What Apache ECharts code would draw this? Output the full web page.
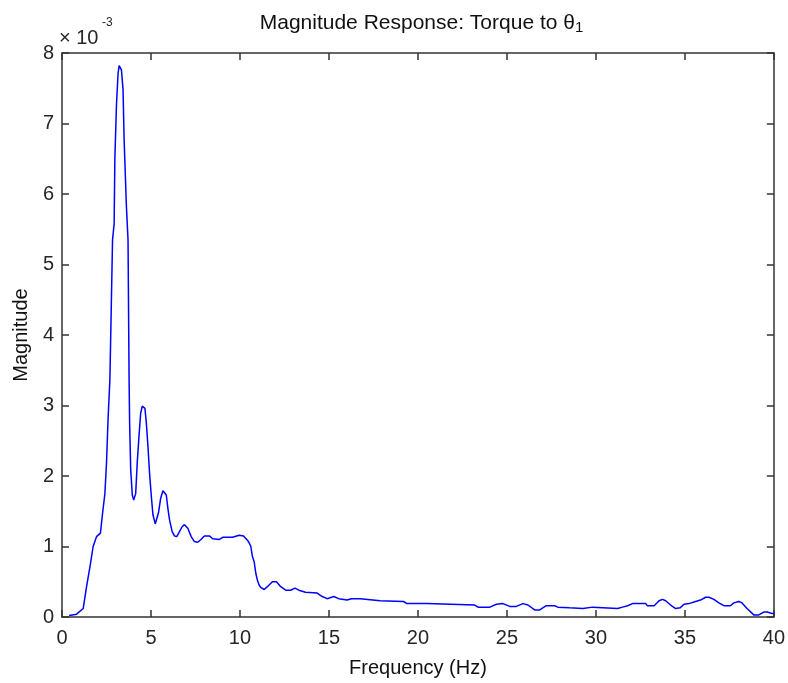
<!DOCTYPE html>
<html>
<head>
<meta charset="utf-8">
<script src="https://cdn.jsdelivr.net/npm/echarts@6/dist/echarts.min.js"></script>
<style>html,body{margin:0;padding:0;background:#fff}#chart{width:788px;height:683px}</style>
</head>
<body>
<div id="chart"></div>
<script>
// Frequency (Hz)
var freqHz = [0.40,0.82,1.19,1.38,1.57,1.75,1.94,2.16,2.27,2.41,2.50,2.59,2.69,2.84,2.93,2.97,3.06,3.15,3.21,3.34,3.43,3.49,3.62,3.71,3.77,3.80,3.86,3.95,4.03,4.14,4.23,4.33,4.42,4.51,4.66,4.74,4.83,4.92,5.02,5.11,5.24,5.33,5.43,5.54,5.67,5.78,5.86,5.95,6.04,6.19,6.32,6.45,6.60,6.75,6.88,7.07,7.26,7.44,7.63,7.81,8.00,8.28,8.47,8.84,9.03,9.58,9.96,10.20,10.42,10.52,10.61,10.70,10.80,10.89,10.98,11.08,11.17,11.36,11.54,11.64,11.82,12.05,12.29,12.57,12.85,13.09,13.31,13.68,14.34,14.62,14.90,15.27,15.55,16.02,16.26,16.76,16.86,17.88,17.98,19.19,19.38,20.49,20.58,23.19,23.38,24.04,24.41,24.78,25.16,25.53,25.90,26.18,26.56,26.84,27.21,27.68,27.86,28.51,28.61,29.26,29.35,29.82,29.91,31.22,31.50,31.78,32.06,32.80,32.89,33.27,33.55,33.74,33.92,34.20,34.48,34.73,34.95,35.23,35.60,35.88,36.16,36.35,36.63,36.91,37.19,37.56,37.75,38.03,38.21,38.49,38.87,39.15,39.43,39.62,39.90,40.00];
// Magnitude, in units of 1e-3
var magnitudeE3 = [0.02,0.04,0.12,0.43,0.71,1.00,1.14,1.19,1.45,1.75,2.18,2.82,3.36,5.35,5.58,6.50,7.26,7.71,7.82,7.76,7.48,6.77,5.82,5.35,3.36,2.75,2.09,1.73,1.66,1.75,2.20,2.58,2.89,2.99,2.96,2.75,2.42,2.04,1.71,1.45,1.32,1.33,1.49,1.68,1.79,1.80,1.73,1.54,1.38,1.21,1.15,1.14,1.21,1.28,1.31,1.26,1.14,1.07,1.06,1.10,1.15,1.15,1.11,1.10,1.13,1.13,1.16,1.15,1.09,1.05,1.00,0.86,0.78,0.62,0.52,0.45,0.42,0.39,0.43,0.45,0.50,0.50,0.43,0.38,0.38,0.41,0.38,0.35,0.34,0.29,0.26,0.29,0.26,0.24,0.26,0.26,0.24,0.23,0.22,0.22,0.19,0.19,0.17,0.17,0.14,0.14,0.18,0.19,0.15,0.15,0.19,0.17,0.10,0.10,0.16,0.16,0.14,0.13,0.12,0.12,0.14,0.14,0.12,0.12,0.14,0.16,0.19,0.19,0.16,0.16,0.23,0.25,0.23,0.17,0.12,0.13,0.18,0.19,0.22,0.24,0.28,0.28,0.25,0.20,0.16,0.16,0.20,0.22,0.20,0.12,0.03,0.03,0.07,0.07,0.05,0.05];

var xTicks = [0,5,10,15,20,25,30,35,40];
var yTicks = [0,1,2,3,4,5,6,7,8];

var titleMain = 'Magnitude Response: Torque to \u03b8';
var titleSub = '1';
var xName = 'Frequency (Hz)';
var yName = 'Magnitude';
var expBase = '\u00d7 10';
var expPow = '-3';

var FONT = 'Liberation Sans, Arial, sans-serif';
var INK = '#262626';

var data = freqHz.map(function (f, i) { return [f, magnitudeE3[i]]; });

var chart = echarts.init(document.getElementById('chart'), null, {renderer: 'canvas'});
var axisCommon = {
  axisLine: {show: true, onZero: false, lineStyle: {color: '#333', width: 1.5}},
  axisTick: {show: true, inside: true, length: 7, lineStyle: {color: '#333', width: 1.5}},
  splitLine: {show: false}
};
var GL = 62, GR = 11, GT = 53, GB = 66;
var plotCenterX = GL + (788 - GL - GR) / 2;
chart.setOption({
  animation: false,
  backgroundColor: '#fff',
  grid: {left: GL, right: GR, top: GT, bottom: GB, containLabel: false},
  xAxis: [
    Object.assign({
      type: 'value', min: xTicks[0], max: xTicks[xTicks.length - 1], interval: xTicks[1] - xTicks[0],
      position: 'bottom',
      name: xName, nameLocation: 'middle', nameGap: 41,
      nameTextStyle: {fontFamily: FONT, fontSize: 20, color: '#111'},
      axisLabel: {fontFamily: FONT, fontSize: 20, color: INK, margin: 11}
    }, axisCommon),
    Object.assign({
      type: 'value', min: xTicks[0], max: xTicks[xTicks.length - 1], interval: xTicks[1] - xTicks[0],
      position: 'top', axisLabel: {show: false}
    }, axisCommon)
  ],
  yAxis: [
    Object.assign({
      type: 'value', min: yTicks[0], max: yTicks[yTicks.length - 1], interval: yTicks[1] - yTicks[0],
      position: 'left',
      name: yName, nameLocation: 'middle', nameGap: 31, nameRotate: 90,
      nameTextStyle: {fontFamily: FONT, fontSize: 20, color: '#111'},
      axisLabel: {fontFamily: FONT, fontSize: 20, color: INK, margin: 8}
    }, axisCommon),
    Object.assign({
      type: 'value', min: yTicks[0], max: yTicks[yTicks.length - 1], interval: yTicks[1] - yTicks[0],
      position: 'right', axisLabel: {show: false}
    }, axisCommon)
  ],
  graphic: [
    {
      type: 'text', x: plotCenterX + 2, y: 13,
      style: {
        text: '{a|' + titleMain + '}{s|' + titleSub + '}',
        align: 'center', verticalAlign: 'top',
        rich: {
          a: {fontFamily: FONT, fontSize: 21, fontWeight: 'normal', fill: '#111', lineHeight: 22, verticalAlign: 'top'},
          s: {fontFamily: FONT, fontSize: 15, fontWeight: 'normal', fill: '#111', lineHeight: 15, verticalAlign: 'bottom'}
        },
        lineHeight: 34
      }
    },
    {type: 'text', left: 59, top: 28, style: {text: expBase, font: '20px ' + FONT, fill: INK}},
    {type: 'text', left: 102, top: 17, style: {text: expPow, font: '12px ' + FONT, fill: INK}}
  ],
  series: [{
    type: 'line',
    xAxisIndex: 0, yAxisIndex: 0,
    data: data,
    showSymbol: false,
    symbol: 'none',
    lineStyle: {color: '#0000ff', width: 1.5},
    z: 3
  }]
});
</script>
</body>
</html>
